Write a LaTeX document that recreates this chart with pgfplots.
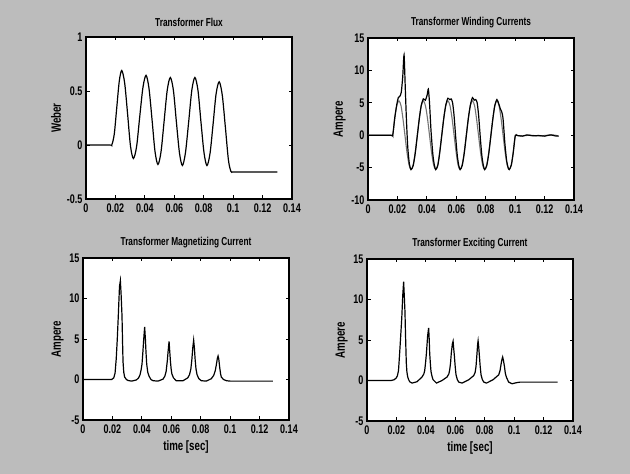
\documentclass[border=0pt]{standalone}
\usepackage{fontspec}
\setmainfont{Liberation Sans}[FakeStretch=0.72]
\usepackage{pgfplots}
\pgfplotsset{compat=1.18}

\definecolor{scan}{RGB}{188,188,188}

\pgfplotsset{
  mat/.style={
    scale only axis, width=206pt, height=162pt, anchor=south west,
    xmin=0, xmax=0.14, enlargelimits=false, scaled ticks=false,
    xtick={0,0.02,0.04,0.06,0.08,0.1,0.12,0.14},
    xticklabels={0,0.02,0.04,0.06,0.08,0.1,0.12,0.14},
    tick align=inside, major tick length=3.5pt,
    every tick/.style={black, line width=0.9pt},
    axis line style={line width=1.1pt},
    axis background/.style={fill=white},
    tick label style={font=\bfseries\fontsize{12.5}{12.5}\selectfont},
    xticklabel style={yshift=-1pt},
    label style={font=\bfseries\fontsize{13.5}{13.5}\selectfont},
    ylabel style={yshift=-1pt},
    title style={font=\bfseries\fontsize{11.5}{11.5}\selectfont, yshift=1pt},
  },
  curve/.style={black, line width=1.2pt},
}

\begin{document}
\begin{tikzpicture}
\fill[scan] (0,0) rectangle (630pt,474pt);

% flux
\begin{axis}[mat, at={(86pt,275pt)},
  ymin=-0.5, ymax=1, ytick={-0.5,0,0.5,1}, yticklabels={-0.5,0,0.5,1},
  ylabel={Weber}, title={Transformer Flux}]
\addplot[curve, smooth, tension=0.5] coordinates {
(0,0) (0.016,0) (0.0175,0) (0.0192,0.1) (0.0209,0.345) (0.0226,0.59) (0.0243,0.69)
(0.0263,0.571) (0.0283,0.2825) (0.0302,-0.006) (0.0322,-0.125)
(0.0344,-0.013) (0.0365,0.26) (0.0387,0.533) (0.0408,0.645)
(0.0428,0.525) (0.0449,0.2325) (0.0469,-0.06) (0.0489,-0.18)
(0.0510,-0.062) (0.0531,0.2225) (0.0552,0.507) (0.0573,0.625)
(0.0594,0.506) (0.0614,0.2175) (0.0635,-0.071) (0.0655,-0.19)
(0.0676,-0.071) (0.0698,0.2175) (0.0719,0.506) (0.0740,0.625)
(0.0761,0.506) (0.0781,0.2175) (0.0802,-0.071) (0.0822,-0.19)
(0.0843,-0.077) (0.0864,0.1975) (0.0884,0.472) (0.0905,0.585)
(0.0926,0.463) (0.0947,0.1675) (0.0968,-0.14) (0.0985,-0.245) (0.0995,-0.25)
(0.101,-0.25) (0.13,-0.25)};
\end{axis}

% winding currents
\begin{axis}[mat, at={(368pt,274pt)},
  ymin=-10, ymax=15, ytick={-10,-5,0,5,10,15}, yticklabels={-10,-5,0,5,10,15},
  ylabel={Ampere}, title={Transformer Winding Currents}]
\addplot[black!55, line width=1.1pt, smooth, tension=0.5] coordinates {
(0,0) (0.0155,0) (0.0168,0) (0.0182,2.65) (0.0196,4.59) (0.0210,5.3) (0.0224,4.59)
(0.0237,2.65) (0.0251,0) (0.0265,-2.65) (0.0279,-4.59) (0.0293,-5.3) (0.0307,-4.59)
(0.0321,-2.65) (0.0335,0) (0.0349,2.65) (0.0362,4.59) (0.0376,5.3) (0.0390,4.59)
(0.0404,2.65) (0.0418,0) (0.0432,-2.65) (0.0446,-4.59) (0.0460,-5.3) (0.0474,-4.59)
(0.0487,-2.65) (0.0501,0) (0.0515,2.65) (0.0529,4.59) (0.0543,5.3) (0.0557,4.59)
(0.0571,2.65) (0.0585,0) (0.0599,-2.65) (0.0612,-4.59) (0.0626,-5.3) (0.0640,-4.59)
(0.0654,-2.65) (0.0668,0) (0.0682,2.65) (0.0696,4.59) (0.0710,5.3) (0.0724,4.59)
(0.0737,2.65) (0.0751,0) (0.0765,-2.65) (0.0779,-4.59) (0.0793,-5.3) (0.0807,-4.59)
(0.0821,-2.65) (0.0835,0) (0.0849,2.65) (0.0862,4.59) (0.0876,5.3) (0.0890,4.59)
(0.0904,2.65) (0.0918,0) (0.0932,-2.65) (0.0946,-4.59) (0.0960,-5.3) (0.0974,-4.59)
(0.0987,-2.65) (0.1001,0) (0.1015,-0.05) (0.105,-0.1) (0.11,0) (0.115,-0.1)
(0.12,-0.05) (0.125,0.05) (0.1295,-0.1)};
\addplot[curve, smooth, tension=0.4] coordinates {
(0,0) (0.0155,0) (0.0168,0) (0.0182,2.7) (0.0196,4.8) (0.0206,5.8) (0.0216,6.0)
(0.0226,6.6) (0.0236,9.0) (0.0245,12.4) (0.0253,7.5) (0.0261,2.5) (0.0270,-1.8)
(0.0281,-4.4) (0.0292,-5.3) (0.0307,-4.7) (0.0321,-2.8) (0.0335,-0.1) (0.0349,2.6)
(0.0362,4.6) (0.0376,5.6) (0.0390,5.4) (0.0402,6.2) (0.0410,7.1) (0.0418,5.0)
(0.0428,0.8) (0.0440,-2.8) (0.0450,-4.5) (0.0460,-5.3) (0.0474,-4.7) (0.0487,-2.8)
(0.0501,-0.1) (0.0515,2.6) (0.0529,4.7) (0.0543,5.7) (0.0555,5.5) (0.0565,5.6)
(0.0575,5.0) (0.0585,3.0) (0.0597,-0.6) (0.0607,-3.2) (0.0617,-4.7) (0.0626,-5.3)
(0.0640,-4.7) (0.0654,-2.8) (0.0668,-0.1) (0.0682,2.6) (0.0696,4.7) (0.0710,5.8)
(0.0722,5.4) (0.0732,5.5) (0.0742,5.0) (0.0752,3.0) (0.0764,-0.6) (0.0774,-3.2)
(0.0784,-4.7) (0.0793,-5.3) (0.0807,-4.7) (0.0821,-2.8) (0.0835,-0.1) (0.0849,2.6)
(0.0862,4.6) (0.0876,5.5) (0.0888,4.9) (0.0899,4.1) (0.0909,3.6) (0.0918,2.5)
(0.0930,-1.2) (0.0942,-3.9) (0.0952,-5.0) (0.0960,-5.3) (0.0974,-4.6) (0.0987,-2.7)
(0.1001,-0.1) (0.1015,-0.05) (0.105,-0.15) (0.108,0.05) (0.112,-0.1) (0.116,-0.05)
(0.12,-0.15) (0.124,0.05) (0.127,-0.1) (0.1295,-0.15)};
\end{axis}

% magnetizing current
\begin{axis}[mat, at={(83pt,54pt)},
  ymin=-5, ymax=15, ytick={-5,0,5,10,15}, yticklabels={-5,0,5,10,15},
  ylabel={Ampere}, xlabel={time [sec]}, title={Transformer Magnetizing Current}]
\addplot[curve] coordinates {
(0,0) (0.0195,0) (0.0209,0.2) (0.0218,0.8) (0.0226,2.6) (0.0233,5.0) (0.024,7.9)
(0.0248,11.5) (0.0254,12.2) (0.0259,10.5) (0.0265,7.9) (0.0269,4.5) (0.0272,2.2)
(0.0277,0.9) (0.0283,0.3) (0.0295,0.0) (0.0306,-0.12) (0.033,-0.2) (0.0363,-0.05)
(0.0378,0.2) (0.0388,0.6) (0.0395,1.2) (0.0401,1.9) (0.0407,3.4) (0.0412,4.8)
(0.0419,6.5) (0.0424,5.0) (0.0428,3.4) (0.0433,1.9) (0.044,0.9) (0.0449,0.4)
(0.0462,0.0) (0.0476,-0.15) (0.051,-0.2) (0.0544,0.05) (0.0556,0.4) (0.0565,1.0)
(0.0573,2.3) (0.0579,3.6) (0.0585,4.7) (0.0589,3.6) (0.0594,2.3) (0.0599,1.3)
(0.0604,0.7) (0.0615,0.2) (0.0634,-0.15) (0.068,-0.15) (0.0712,0.2) (0.0724,0.6)
(0.0733,1.3) (0.0740,2.5) (0.0746,3.9) (0.0752,4.85) (0.0757,3.9) (0.0762,2.5)
(0.0768,1.3) (0.0775,0.6) (0.0787,0.1) (0.0804,-0.15) (0.0838,-0.2) (0.0872,0.1)
(0.0888,0.5) (0.0899,1.1) (0.0907,1.9) (0.0913,2.6) (0.0918,2.9) (0.0923,2.5)
(0.0929,1.5) (0.0935,0.7) (0.094,0.3) (0.0955,0.0) (0.0975,-0.15) (0.1,-0.2)
(0.129,-0.2)};
\end{axis}

% exciting current
\begin{axis}[mat, at={(367pt,53pt)},
  ymin=-5, ymax=15, ytick={-5,0,5,10,15}, yticklabels={-5,0,5,10,15},
  ylabel={Ampere}, xlabel={time [sec]}, title={Transformer Exciting Current}]
\addplot[curve] coordinates {
(0,0) (0.0165,0) (0.0185,0.1) (0.0198,0.3) (0.0206,0.55) (0.0214,1.2) (0.0222,3.4)
(0.0229,5.5) (0.0236,7.6) (0.0243,10.5) (0.0249,12.2) (0.0254,10.2) (0.0258,8.5)
(0.0262,5.5) (0.0267,2.2) (0.0271,1.1) (0.0276,0.5) (0.0283,0.1) (0.029,-0.15)
(0.0306,-0.32) (0.034,-0.15) (0.0374,0.43) (0.0386,0.8) (0.0392,1.2) (0.0398,2.2)
(0.0404,3.4) (0.0412,5.5) (0.0419,6.5) (0.0423,5.0) (0.0426,3.4) (0.0431,2.0)
(0.0435,1.1) (0.0442,0.5) (0.0449,0.1) (0.0472,-0.32) (0.051,0.0) (0.0544,0.43)
(0.0556,0.8) (0.0562,1.3) (0.0568,2.2) (0.0573,3.4) (0.0580,4.5) (0.0585,4.85)
(0.0589,4.0) (0.0594,3.0) (0.0599,1.8) (0.0605,0.7) (0.0614,0.1) (0.0624,-0.2)
(0.0646,-0.32) (0.0692,0.1) (0.0725,0.6) (0.0735,1.0) (0.0741,1.75) (0.0747,3.2)
(0.0752,4.5) (0.0755,4.9) (0.0759,4.2) (0.0764,3.0) (0.0769,1.8) (0.0775,0.7)
(0.0784,0.1) (0.0794,-0.2) (0.0812,-0.32) (0.0857,0.1) (0.0895,0.7) (0.0904,1.2)
(0.0911,2.0) (0.0917,2.6) (0.0922,2.9) (0.0927,2.5) (0.0934,1.75) (0.094,0.9)
(0.0947,0.43) (0.0955,0.1) (0.0963,-0.2) (0.0986,-0.4) (0.1008,-0.3) (0.104,-0.2)
(0.1295,-0.2)};
\end{axis}
\end{tikzpicture}
\end{document}
